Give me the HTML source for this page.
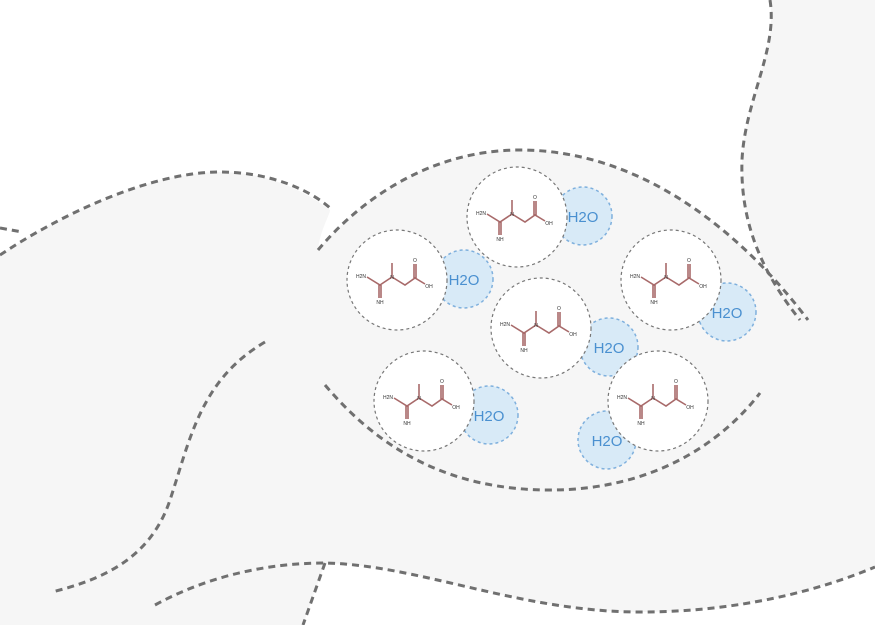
<!DOCTYPE html>
<html><head><meta charset="utf-8"><style>html,body{margin:0;padding:0;background:#fff}svg{display:block}</style></head>
<body>
<svg width="875" height="625" viewBox="0 0 875 625" xmlns="http://www.w3.org/2000/svg" font-family="Liberation Sans, sans-serif">
<rect width="875" height="625" fill="#f6f6f6"/>
<path d="M0,0 L770,0 C778,50 745,100 742,160 C740,220 760,270 808,320 C740,230 640,150 520,150 C430,150 360,200 318,250 C320,230 330,215 330,210 C290,180 250,172 220,172 C150,172 60,215 0,255 Z" fill="#fff"/>
<path d="M325,563 C420,565 520,612 640,612 C740,612 820,590 875,567 L875,625 L303,625 Z" fill="#fff"/>
<g fill="none" stroke="#707070" stroke-width="3" stroke-dasharray="7,5">
<path d="M0,228 L22,232"/>
<path d="M0,255 C60,215 150,172 220,172 C270,172 310,190 330,208"/>
<path d="M318,250 C360,200 430,150 520,150 C640,150 740,230 808,320"/>
<path d="M770,0 C778,50 745,100 742,160 C740,220 760,270 800,320"/>
<path d="M325,385 C380,450 450,490 550,490 C650,490 720,445 760,393"/>
<path d="M265,342 C200,380 190,440 170,500 C150,560 100,580 52,592"/>
<path d="M155,605 C210,575 270,563 325,563 C420,565 520,612 640,612 C740,612 820,590 875,567"/>
<path d="M325,563 L303,625"/>
</g>
<g stroke-dasharray="3,3" stroke-width="1.5">
<circle cx="583" cy="216" r="29" fill="#d8eaf7" stroke="#7fb0dd"/>
<circle cx="464" cy="279" r="29" fill="#d8eaf7" stroke="#7fb0dd"/>
<circle cx="609" cy="347" r="29" fill="#d8eaf7" stroke="#7fb0dd"/>
<circle cx="727" cy="312" r="29" fill="#d8eaf7" stroke="#7fb0dd"/>
<circle cx="489" cy="415" r="29" fill="#d8eaf7" stroke="#7fb0dd"/>
<circle cx="607" cy="440" r="29" fill="#d8eaf7" stroke="#7fb0dd"/>
<circle cx="517" cy="217" r="50" fill="#fff" stroke="#777" stroke-width="1.2"/>
<circle cx="397" cy="280" r="50" fill="#fff" stroke="#777" stroke-width="1.2"/>
<circle cx="541" cy="328" r="50" fill="#fff" stroke="#777" stroke-width="1.2"/>
<circle cx="671" cy="280" r="50" fill="#fff" stroke="#777" stroke-width="1.2"/>
<circle cx="424" cy="401" r="50" fill="#fff" stroke="#777" stroke-width="1.2"/>
<circle cx="658" cy="401" r="50" fill="#fff" stroke="#777" stroke-width="1.2"/>
</g>
<g fill="#4a90d0" font-size="15" text-anchor="middle">
<text x="583" y="222">H2O</text><text x="464" y="285">H2O</text><text x="609" y="353">H2O</text>
<text x="727" y="318">H2O</text><text x="489" y="421">H2O</text><text x="607" y="446">H2O</text>
</g>
<g font-size="5" fill="#333" text-anchor="middle">
<g transform="translate(517,217)"><path d="M-30,-3 L-17,5 L-5,-3 M-5,-3 L-5,-17 M-5,-3 L8,5 L18,-2 L28,4 M-18,5 L-18,18 M-16,5 L-16,18 M17,-2 L17,-16 M19,-2 L19,-16" fill="none" stroke="#a86a6a" stroke-width="1.6"/><text x="-36" y="-2">H2N</text><text x="-17" y="24">NH</text><text x="-5" y="-1">N</text><text x="18" y="-18">O</text><text x="32" y="8">OH</text></g>
<g transform="translate(397,280)"><path d="M-30,-3 L-17,5 L-5,-3 M-5,-3 L-5,-17 M-5,-3 L8,5 L18,-2 L28,4 M-18,5 L-18,18 M-16,5 L-16,18 M17,-2 L17,-16 M19,-2 L19,-16" fill="none" stroke="#a86a6a" stroke-width="1.6"/><text x="-36" y="-2">H2N</text><text x="-17" y="24">NH</text><text x="-5" y="-1">N</text><text x="18" y="-18">O</text><text x="32" y="8">OH</text></g>
<g transform="translate(541,328)"><path d="M-30,-3 L-17,5 L-5,-3 M-5,-3 L-5,-17 M-5,-3 L8,5 L18,-2 L28,4 M-18,5 L-18,18 M-16,5 L-16,18 M17,-2 L17,-16 M19,-2 L19,-16" fill="none" stroke="#a86a6a" stroke-width="1.6"/><text x="-36" y="-2">H2N</text><text x="-17" y="24">NH</text><text x="-5" y="-1">N</text><text x="18" y="-18">O</text><text x="32" y="8">OH</text></g>
<g transform="translate(671,280)"><path d="M-30,-3 L-17,5 L-5,-3 M-5,-3 L-5,-17 M-5,-3 L8,5 L18,-2 L28,4 M-18,5 L-18,18 M-16,5 L-16,18 M17,-2 L17,-16 M19,-2 L19,-16" fill="none" stroke="#a86a6a" stroke-width="1.6"/><text x="-36" y="-2">H2N</text><text x="-17" y="24">NH</text><text x="-5" y="-1">N</text><text x="18" y="-18">O</text><text x="32" y="8">OH</text></g>
<g transform="translate(424,401)"><path d="M-30,-3 L-17,5 L-5,-3 M-5,-3 L-5,-17 M-5,-3 L8,5 L18,-2 L28,4 M-18,5 L-18,18 M-16,5 L-16,18 M17,-2 L17,-16 M19,-2 L19,-16" fill="none" stroke="#a86a6a" stroke-width="1.6"/><text x="-36" y="-2">H2N</text><text x="-17" y="24">NH</text><text x="-5" y="-1">N</text><text x="18" y="-18">O</text><text x="32" y="8">OH</text></g>
<g transform="translate(658,401)"><path d="M-30,-3 L-17,5 L-5,-3 M-5,-3 L-5,-17 M-5,-3 L8,5 L18,-2 L28,4 M-18,5 L-18,18 M-16,5 L-16,18 M17,-2 L17,-16 M19,-2 L19,-16" fill="none" stroke="#a86a6a" stroke-width="1.6"/><text x="-36" y="-2">H2N</text><text x="-17" y="24">NH</text><text x="-5" y="-1">N</text><text x="18" y="-18">O</text><text x="32" y="8">OH</text></g>
</g>
</svg>
</body></html>
